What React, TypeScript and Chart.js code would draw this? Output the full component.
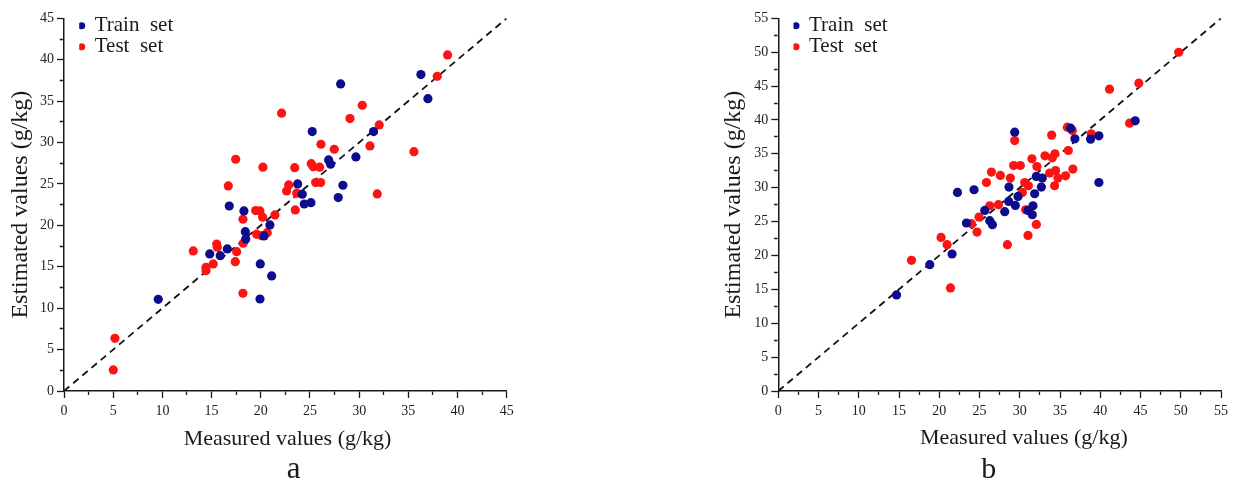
import { useEffect, useRef } from 'react';
import { Chart, registerables } from 'chart.js';

Chart.register(...registerables);

const FONT = '"Liberation Serif", "Times New Roman", serif';

// ---- texts ----
const TRAIN_LABEL = 'Train  set';
const TEST_LABEL = 'Test  set';
const Y_TITLE = 'Estimated values (g/kg)';
const X_TITLE = 'Measured values (g/kg)';
const LETTER_A = 'a';
const LETTER_B = 'b';

// ---- axes ----
const AXIS_A = [0, 45];
const AXIS_B = [0, 55];
const TICK_STEP = 2.5;
const LABEL_STEP = 5;

// ---- colours ----
const TRAIN_COLOR = '#0c0c8c';
const TEST_COLOR = '#ff1212';
const INK = '#1a1a1a';

// ---- panel a data ----
const A_TRAIN_X = [36.28, 36.99, 28.12, 25.23, 31.47, 29.67, 26.9, 27.1, 23.75, 28.35, 24.22, 27.88, 24.42, 25.1, 16.8, 18.29, 20.93, 18.43, 18.47, 20.33, 16.6, 14.81, 15.88, 19.95, 21.11, 19.92, 9.58];
const A_TRAIN_Y = [38.2, 35.3, 37.08, 31.32, 31.32, 28.26, 27.9, 27.38, 25.0, 24.84, 23.76, 23.35, 22.58, 22.74, 22.34, 21.74, 20.05, 19.24, 18.36, 18.72, 17.15, 16.55, 16.34, 15.34, 13.89, 11.11, 11.07];
const A_TEST_X = [38.99, 37.94, 22.12, 30.32, 29.07, 32.04, 26.12, 27.47, 31.1, 17.45, 20.22, 23.45, 25.13, 25.34, 25.99, 35.57, 16.7, 22.84, 22.63, 23.65, 25.58, 26.09, 31.84, 23.51, 19.48, 19.92, 20.19, 21.44, 18.19, 18.22, 19.58, 20.09, 20.66, 15.52, 15.58, 13.14, 17.55, 17.41, 15.17, 14.43, 14.43, 18.19, 5.18, 5.01];
const A_TEST_Y = [40.58, 38.0, 33.54, 34.5, 32.89, 32.13, 29.79, 29.19, 29.59, 27.98, 27.02, 26.97, 27.45, 27.09, 27.02, 28.9, 24.76, 24.88, 24.15, 23.88, 25.16, 25.16, 23.79, 21.86, 21.78, 21.74, 20.98, 21.26, 20.74, 17.84, 18.93, 18.76, 19.12, 17.75, 17.36, 16.91, 16.82, 15.62, 15.34, 14.94, 14.53, 11.8, 6.36, 2.54];

// ---- panel b data ----
const B_TRAIN_X = [44.34, 36.32, 29.37, 36.85, 38.8, 39.83, 39.83, 32.06, 32.8, 28.66, 32.68, 31.85, 29.78, 22.26, 24.32, 25.65, 28.62, 29.45, 28.13, 31.02, 31.64, 31.56, 26.27, 26.6, 23.37, 21.59, 18.82, 14.69];
const B_TRAIN_Y = [39.87, 38.79, 38.2, 37.21, 37.17, 37.66, 30.77, 31.66, 31.42, 30.1, 30.1, 29.11, 28.71, 29.3, 29.7, 26.65, 27.97, 27.38, 26.46, 26.65, 27.34, 26.01, 25.13, 24.54, 24.79, 20.22, 18.64, 14.18];
const B_TEST_X = [49.75, 44.79, 41.15, 43.64, 35.91, 36.53, 38.88, 33.96, 29.37, 36.03, 34.37, 33.13, 34.04, 31.51, 32.13, 29.24, 30.07, 26.48, 27.59, 28.83, 25.86, 33.71, 34.45, 34.74, 35.69, 36.6, 34.33, 30.61, 31.07, 30.32, 26.27, 27.35, 30.73, 32.06, 31.02, 28.46, 24.0, 24.94, 24.69, 20.22, 20.97, 16.55, 21.39];
const B_TEST_Y = [49.99, 45.42, 44.54, 39.53, 38.94, 38.44, 37.95, 37.76, 36.96, 35.49, 35.0, 34.71, 34.41, 34.27, 33.13, 33.28, 33.28, 32.31, 31.81, 31.42, 30.77, 32.16, 32.54, 31.42, 31.76, 32.75, 30.29, 30.77, 30.29, 29.3, 27.34, 27.49, 26.75, 24.58, 22.96, 21.59, 24.69, 25.67, 23.46, 22.67, 21.59, 19.28, 15.21];

const zip = (xs: number[], ys: number[]) => xs.map((x, i) => ({ x, y: ys[i] }));
const isMajor = (v: number) => Math.abs(v / LABEL_STEP - Math.round(v / LABEL_STEP)) < 1e-6;

const legendShift = {
  id: 'legendShift',
  afterLayout(chart: any, _a: any, opts: any) {
    const lg = chart.legend;
    if (!lg) return;
    const w = lg.width, h = lg.height;
    lg.left = chart.chartArea.left + opts.dx;
    lg.top = chart.chartArea.top + opts.dy;
    lg.right = lg.left + w;
    lg.bottom = lg.top + h;
  },
};

const captionPlugin = {
  id: 'caption',
  afterDraw(chart: any, _a: any, opts: any) {
    const { ctx, chartArea } = chart;
    const cx = (chartArea.left + chartArea.right) / 2;
    ctx.save();
    ctx.fillStyle = INK;
    ctx.textAlign = 'center';
    ctx.textBaseline = 'alphabetic';
    ctx.font = `${opts.titleSize}px ${FONT}`;
    ctx.fillText(opts.title, cx + opts.titleDx, chartArea.bottom + opts.titleDy);
    ctx.font = `${opts.letterSize}px ${FONT}`;
    ctx.fillText(opts.letter, cx + opts.letterDx, chartArea.bottom + opts.letterDy);
    ctx.restore();
  },
};

type PanelCfg = {
  axis: number[];
  trainX: number[]; trainY: number[];
  testX: number[]; testY: number[];
  yAxisWidth: number;
  padRight: number;
  yTitlePad: number;
  caption: any;
};

function makeChart(canvas: HTMLCanvasElement, cfg: PanelCfg) {
  const [lo, hi] = cfg.axis;
  const tickFont = { family: FONT, size: 14 };
  const scaleCommon = (isY: boolean) => ({
    type: 'linear' as const,
    min: lo,
    max: hi,
    grid: {
      display: true,
      drawOnChartArea: false,
      drawTicks: true,
      tickLength: 7,
      tickColor: INK,
      tickWidth: 1.3,
      tickBorderDash: (c: any) => {
        const v = c.tick ? c.tick.value : 0;
        if (isMajor(v)) return [];
        return isY ? [0, 2.75, 3.5, 40] : [3.5, 40];
      },
    },
    border: { display: true, color: INK, width: 1.5 },
    ticks: {
      stepSize: TICK_STEP,
      maxTicksLimit: 100,
      autoSkip: false,
      maxRotation: 0,
      color: '#222',
      font: tickFont,
      padding: isY ? 3 : 5,
      callback: (v: any) => (isMajor(Number(v)) ? String(v) : ''),
    },
  });

  return new Chart(canvas, {
    type: 'scatter',
    data: {
      datasets: [
        {
          label: TRAIN_LABEL,
          data: zip(cfg.trainX, cfg.trainY),
          backgroundColor: TRAIN_COLOR,
          borderColor: TRAIN_COLOR,
          borderWidth: 0,
          pointRadius: 4.6,
          pointStyle: 'circle',
          order: 1,
        },
        {
          label: TEST_LABEL,
          data: zip(cfg.testX, cfg.testY),
          backgroundColor: TEST_COLOR,
          borderColor: TEST_COLOR,
          borderWidth: 0,
          pointRadius: 4.6,
          pointStyle: 'circle',
          order: 2,
        },
        {
          type: 'line',
          label: '',
          data: [
            { x: lo, y: lo },
            { x: hi, y: hi },
          ],
          borderColor: '#111',
          borderWidth: 1.8,
          borderDash: [7, 5],
          pointRadius: 0,
          fill: false,
          order: 10,
        } as any,
      ],
    },
    options: {
      animation: false,
      responsive: false,
      maintainAspectRatio: false,
      events: [],
      layout: { padding: { left: 0, top: 18.3, right: cfg.padRight, bottom: 0 } },
      scales: {
        x: {
          ...scaleCommon(false),
          position: 'bottom',
          afterFit: (s: any) => {
            s.height = 92;
          },
        },
        y: {
          ...scaleCommon(true),
          position: 'left',
          title: {
            display: true,
            text: Y_TITLE,
            color: INK,
            font: { family: FONT, size: 24, lineHeight: 1.2 },
            padding: { top: cfg.yTitlePad, bottom: 0 },
          },
          afterFit: (s: any) => {
            s.width = cfg.yAxisWidth;
          },
        },
      } as any,
      plugins: {
        legend: {
          display: true,
          position: 'chartArea',
          align: 'start',
          labels: {
            usePointStyle: true,
            boxWidth: 5,
            boxHeight: 5,
            padding: 0,
            textAlign: 'left',
            color: INK,
            font: { family: FONT, size: 21 },
            filter: (item: any) => item.text !== '',
          },
        },
        tooltip: { enabled: false },
        legendShift: { dx: 15.2, dy: -3 },
        caption: cfg.caption,
      } as any,
    },
    plugins: [legendShift, captionPlugin],
  } as any);
}

export default function App() {
  const refA = useRef<HTMLCanvasElement>(null);
  const refB = useRef<HTMLCanvasElement>(null);

  useEffect(() => {
    const a = makeChart(refA.current!, {
      axis: AXIS_A,
      trainX: A_TRAIN_X, trainY: A_TRAIN_Y,
      testX: A_TEST_X, testY: A_TEST_Y,
      yAxisWidth: 64,
      padRight: 193.3,
      yTitlePad: 6.4,
      caption: { title: X_TITLE, titleSize: 22, titleDx: 2.2, titleDy: 54, letter: LETTER_A, letterSize: 31, letterDx: 8.3, letterDy: 87.3 },
    });
    const b = makeChart(refB.current!, {
      axis: AXIS_B,
      trainX: B_TRAIN_X, trainY: B_TRAIN_Y,
      testX: B_TEST_X, testY: B_TEST_Y,
      yAxisWidth: 78.3,
      padRight: 11.3,
      yTitlePad: 19.8,
      caption: { title: X_TITLE, titleSize: 22, titleDx: 24.2, titleDy: 52.5, letter: LETTER_B, letterSize: 30, letterDx: -10.8, letterDy: 87 },
    });
    return () => {
      a.destroy();
      b.destroy();
    };
  }, []);

  return (
    <div style={{ position: 'fixed', left: 0, top: 0, width: 1233, height: 483, background: '#fff', overflow: 'hidden' }}>
      <canvas ref={refA} width={700} height={483} style={{ position: 'absolute', left: 0, top: 0 }} />
      <canvas ref={refB} width={533} height={483} style={{ position: 'absolute', left: 700, top: 0 }} />
    </div>
  );
}
